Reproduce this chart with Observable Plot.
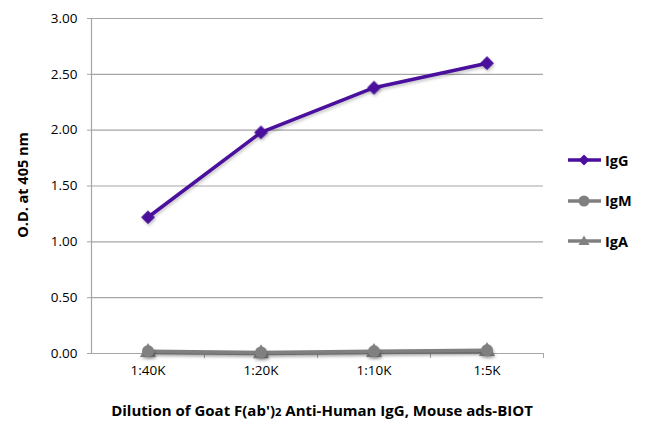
<!DOCTYPE html>
<html>
<head>
<meta charset="utf-8">
<script src="https://cdn.jsdelivr.net/npm/d3@7"></script>
<script src="https://cdn.jsdelivr.net/npm/@observablehq/plot@0.6"></script>
<style>
  html, body { margin: 0; padding: 0; background: #fff; }
  #wrap { position: relative; width: 650px; height: 432px; font-family: "Open Sans", sans-serif; color: #000; }
  #wrap svg text { font-size: 13.5px !important; font-family: "Open Sans", sans-serif !important; }
  #wrap svg g[aria-label="line"], #wrap svg g[aria-label="dot"] { filter: drop-shadow(1.5px 2px 1.5px rgba(0,0,0,0.22)); }
  .ytitle { position: absolute; left: 22px; top: 185px; transform: translate(-50%, -50%) rotate(-90deg); font-weight: bold; font-size: 14.5px; white-space: nowrap; }
  .xtitle { position: absolute; left: 322px; top: 410px; transform: translate(-50%, -50%); font-weight: bold; font-size: 15px; white-space: nowrap; }
  .xtitle .s { font-size: 75%; }
  .legend { position: absolute; left: 567px; top: 150px; font-weight: bold; font-size: 14.5px; }
  .legend .item { display: flex; align-items: center; height: 20px; margin-bottom: 20.5px; }
  .legend svg { margin-right: 3px; }
</style>
</head>
<body>
<div id="wrap"></div>
<script>
const categories = ["1:40K", "1:20K", "1:10K", "1:5K"];
const igG = [1.22, 1.98, 2.38, 2.60];
const igM = [0.02, 0.01, 0.02, 0.03];
const igA = [0.01, 0.00, 0.01, 0.02];
const seriesNames = ["IgG", "IgM", "IgA"];
const seriesColors = {IgG: "#4b0f9e", IgM: "#808080", IgA: "#808080"};
const seriesSymbols = {IgG: "square", IgM: "circle", IgA: "triangle"};
const yTicks = [0, 0.5, 1, 1.5, 2, 2.5, 3];

const rows = (name, vals) => vals.map((v, i) => ({series: name, i, cat: categories[i], value: v}));
const dataG = rows("IgG", igG), dataM = rows("IgM", igM), dataA = rows("IgA", igA);

const gridColor = "#a6a6a6";
const boundaries = categories.map((c, i) => i + 0.5);

const chart = Plot.plot({
  width: 650, height: 432,
  marginLeft: 91, marginRight: 107, marginTop: 18, marginBottom: 79,
  style: {fontFamily: "Open Sans, sans-serif", fontSize: "13.5px", color: "#000", background: "#fff"},
  x: {type: "linear", domain: [-0.5, categories.length - 0.5]},
  y: {domain: [0, 3]},
  marks: [
    Plot.ruleY(yTicks.filter(d => d > 0), {stroke: gridColor, strokeWidth: 1.2}),
    Plot.axisY({ticks: yTicks, tickFormat: d3.format(".2f"), tickSize: 4, tickPadding: 10, stroke: gridColor, label: null, fill: "#000"}),
    Plot.axisX({ticks: boundaries, tickFormat: () => "", tickSize: 5, stroke: gridColor, label: null}),
    Plot.axisX({ticks: categories.map((c, i) => i), tickFormat: i => categories[i], tickSize: 0, tickPadding: 12, label: null, fill: "#000"}),
    Plot.ruleX([-0.5], {stroke: gridColor, strokeWidth: 1.2}),
    Plot.ruleY([0], {stroke: gridColor, strokeWidth: 1.2}),
    Plot.line(dataA, {x: "i", y: "value", stroke: seriesColors.IgA, strokeWidth: 3.5}),
    Plot.dot(dataA, {x: "i", y: "value", symbol: seriesSymbols.IgA, fill: seriesColors.IgA, r: 6}),
    Plot.line(dataM, {x: "i", y: "value", stroke: seriesColors.IgM, strokeWidth: 3.5}),
    Plot.dot(dataM, {x: "i", y: "value", symbol: seriesSymbols.IgM, fill: seriesColors.IgM, r: 6}),
    Plot.line(dataG, {x: "i", y: "value", stroke: seriesColors.IgG, strokeWidth: 3.5}),
    Plot.dot(dataG, {x: "i", y: "value", symbol: seriesSymbols.IgG, fill: seriesColors.IgG, r: 5.5, rotate: 45})
  ]
});

const wrap = document.getElementById("wrap");
wrap.appendChild(chart);

const yt = document.createElement("div");
yt.className = "ytitle";
yt.textContent = "O.D. at 405 nm";
wrap.appendChild(yt);

const xt = document.createElement("div");
xt.className = "xtitle";
xt.innerHTML = "Dilution of Goat F(ab')<span class='s'>2</span> Anti-Human IgG, Mouse ads-BIOT";
wrap.appendChild(xt);

const legend = document.createElement("div");
legend.className = "legend";
const symPaths = {
  square: "M17,4.5 L22.5,10 L17,15.5 L11.5,10 Z",
  triangle: "M17,4.5 L22.5,14 L11.5,14 Z"
};
seriesNames.forEach(name => {
  const item = document.createElement("div");
  item.className = "item";
  const c = seriesColors[name];
  const sym = seriesSymbols[name];
  let marker = sym === "circle"
    ? `<circle cx="17" cy="10" r="5.5" fill="${c}"/>`
    : `<path d="${symPaths[sym]}" fill="${c}"/>`;
  item.innerHTML = `<svg width="35" height="20"><line x1="1" x2="34" y1="10" y2="10" stroke="${c}" stroke-width="3.5"/>${marker}</svg><span>${name}</span>`;
  legend.appendChild(item);
});
wrap.appendChild(legend);
</script>
</body>
</html>
